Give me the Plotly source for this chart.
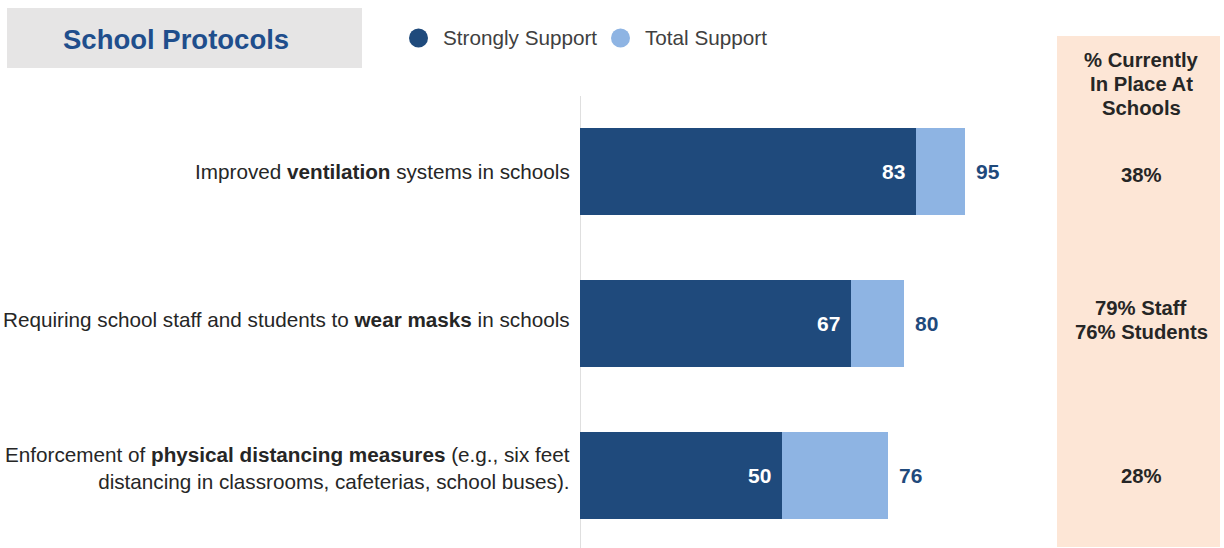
import plotly.graph_objects as go

W, H = 1224, 548

categories = [
    "Improved <b>ventilation</b> systems in schools",
    "Requiring school staff and students to <b>wear masks</b> in schools",
    "Enforcement of <b>physical distancing measures</b> (e.g., six feet<br>distancing in classrooms, cafeterias, school buses).",
]
strongly_support = [83, 67, 50]
total_support = [95, 80, 76]
in_place = ["38%", "79% Staff<br>76% Students", "28%"]
panel_header = ["% Currently", "In Place At", "Schools"]

DARK = "#1F4A7C"
LIGHT = "#8EB4E3"
FONT = "Arial"

def px(x):
    return x / W

def py(y):
    return 1 - y / H

ypos = list(range(len(categories)))

fig = go.Figure()
fig.add_trace(go.Bar(
    y=ypos, x=total_support, orientation="h", marker=dict(color=LIGHT, line=dict(width=0)),
    width=0.572, showlegend=False, hoverinfo="x",
))
fig.add_trace(go.Bar(
    y=ypos, x=strongly_support, orientation="h", marker=dict(color=DARK, line=dict(width=0)),
    width=0.572, showlegend=False, hoverinfo="x",
))

scale = 4.048  # px per unit
x0px, x1px = 580, 1040
xrange_max = (x1px - x0px) / scale

label_shift = [0, 4, 8]
panel_shift = [-3, 4, 0]

annotations = []
for i, (cat, s, t, p) in enumerate(zip(categories, strongly_support, total_support, in_place)):
    annotations.append(dict(x=s, y=i, xref="x", yref="y", text=f"<b>{s}</b>", showarrow=False,
                            xanchor="right", xshift=-9, font=dict(family=FONT, size=21, color="white")))
    annotations.append(dict(x=t, y=i, xref="x", yref="y", text=f"<b>{t}</b>", showarrow=False,
                            xanchor="left", xshift=9, font=dict(family=FONT, size=21, color=DARK)))
    annotations.append(dict(x=px(572), y=i, xref="paper", yref="y", text=cat, showarrow=False,
                            xanchor="right", align="right", yshift=label_shift[i],
                            font=dict(family=FONT, size=20.7, color="#262626")))
    lines = p.split("<br>")
    n = len(lines)
    for k, ln in enumerate(lines):
        off = (k - (n - 1) / 2) * 24
        annotations.append(dict(x=px(1141), y=i, xref="paper", yref="y", text=f"<b>{ln}</b>", showarrow=False,
                                xanchor="center", yanchor="middle", yshift=panel_shift[i] - off,
                                font=dict(family=FONT, size=20.3, color="#262626")))

# title
annotations.append(dict(x=px(176), y=py(39), xref="paper", yref="paper", text="<b>School Protocols</b>",
                        showarrow=False, xanchor="center", yanchor="middle",
                        font=dict(family=FONT, size=27.5, color="#1F4E8C")))
# panel header
for k, ln in enumerate(panel_header):
    annotations.append(dict(x=px(1141), y=py(60 + 24 * k), xref="paper", yref="paper",
                            text=f"<b>{ln}</b>", showarrow=False, xanchor="center", yanchor="middle",
                            font=dict(family=FONT, size=20.3, color="#262626")))
# legend
annotations.append(dict(x=px(441), y=py(38), xref="paper", yref="paper", text="Strongly Support",
                        showarrow=False, xanchor="left", yanchor="middle",
                        font=dict(family=FONT, size=20.7, color="#404040")))
annotations.append(dict(x=px(643), y=py(38), xref="paper", yref="paper", text="Total Support",
                        showarrow=False, xanchor="left", yanchor="middle",
                        font=dict(family=FONT, size=20.7, color="#404040")))

shapes = [
    dict(type="rect", xref="paper", yref="paper", x0=px(7), x1=px(362), y0=py(68), y1=py(8),
         fillcolor="#E6E5E5", line=dict(width=0), layer="below"),
    dict(type="rect", xref="paper", yref="paper", x0=px(1057), x1=px(1220), y0=py(547), y1=py(36),
         fillcolor="#FDE6D6", line=dict(width=0), layer="below"),
    dict(type="circle", xref="paper", yref="paper", x0=px(409), x1=px(428), y0=py(47.5), y1=py(28.5),
         fillcolor=DARK, line=dict(width=0)),
    dict(type="circle", xref="paper", yref="paper", x0=px(611), x1=px(630), y0=py(47.5), y1=py(28.5),
         fillcolor=LIGHT, line=dict(width=0)),
]

fig.update_layout(
    width=W, height=H, autosize=False,
    margin=dict(l=0, r=0, t=0, b=0),
    paper_bgcolor="white", plot_bgcolor="rgba(0,0,0,0)",
    barmode="overlay", bargap=0,
    xaxis=dict(domain=[px(x0px), px(x1px)], range=[0, xrange_max], visible=False, fixedrange=True),
    yaxis=dict(domain=[0, py(96)], range=[2.477, -0.497], showticklabels=False, showgrid=False,
               zeroline=False, showline=False, fixedrange=True),
    annotations=annotations, shapes=shapes + [
        dict(type="line", xref="x", yref="paper", x0=0, x1=0, y0=0, y1=py(96),
             line=dict(color="#BFBFBF", width=1), layer="below"),
    ],
    showlegend=False,
)

fig.write_html("out.html")
